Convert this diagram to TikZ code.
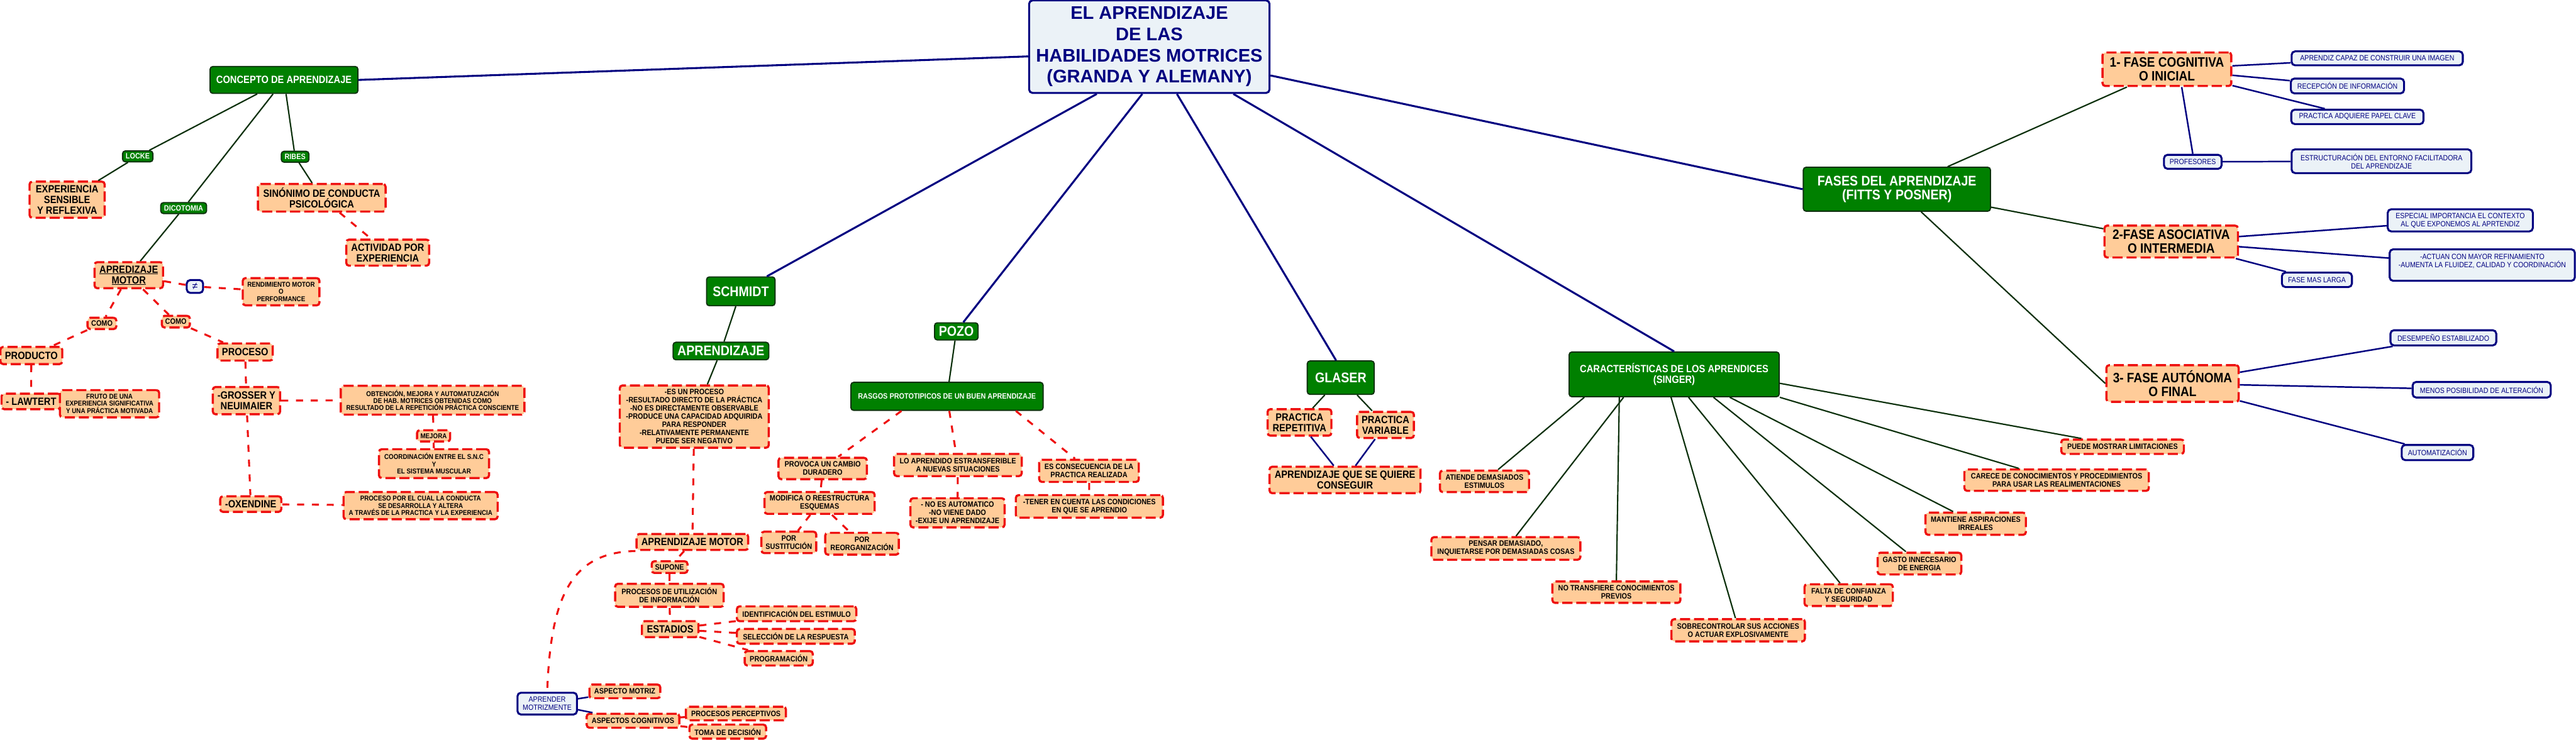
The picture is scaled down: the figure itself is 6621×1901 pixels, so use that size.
\documentclass[tikz,border=0pt]{standalone}
\usepackage{fontspec}
\setmainfont{Liberation Sans}
\newfontfamily\mapfont{Liberation Sans}[FakeStretch=0.88]
\definecolor{navy}{RGB}{0,0,128}
\definecolor{paleblue}{RGB}{235,242,247}
\definecolor{peachfill}{RGB}{255,204,153}
\definecolor{mapred}{RGB}{238,16,16}
\definecolor{mapgreen}{RGB}{0,128,0}
\definecolor{darkgreen}{RGB}{12,48,12}
\tikzset{
  peach/.style={draw=mapred, line width=5.5pt, dash pattern=on 26pt off 10pt, fill=peachfill, rounded corners=7pt, align=center, inner sep=3pt, text=black},
  greenbox/.style={draw=darkgreen, line width=3pt, fill=mapgreen, rounded corners=7pt, align=center, inner sep=3pt, text=white},
  bluebox/.style={draw=navy, line width=5pt, fill=paleblue, rounded corners=9pt, align=center, inner sep=3pt, text=navy, font=\mapfont\fontsize{19.5}{21}\selectfont},
  titlebox/.style={draw=navy, line width=5pt, fill=paleblue, rounded corners=9pt, align=center, inner sep=4pt, text=navy, font=\bfseries\fontsize{47}{54.5}\selectfont},
  fhuge/.style={font=\mapfont\bfseries\fontsize{36}{36.5}\selectfont},
  ffase/.style={font=\mapfont\bfseries\fontsize{35}{36}\selectfont},
  fbig/.style={font=\mapfont\bfseries\fontsize{27}{27.5}\selectfont},
  fmid/.style={font=\mapfont\bfseries\fontsize{20}{21}\selectfont},
  fsmall/.style={font=\mapfont\bfseries\fontsize{18}{18.5}\selectfont},
  navyline/.style={draw=navy, line width=5pt},
  thinnavy/.style={draw=navy, line width=4pt},
  greenline/.style={draw=darkgreen, line width=3.5pt},
  redline/.style={draw=mapred, line width=5pt, dash pattern=on 18pt off 20pt}
}
\begin{document}
\begin{tikzpicture}[x=1pt, y=-1pt]
		\useasboundingbox (0,0) rectangle (6621,1901);
		%draw main node
		\node[titlebox, minimum width=618pt, minimum height=238pt] (title) at (2954,120) {EL APRENDIZAJE\\DE LAS\\HABILIDADES MOTRICES\\(GRANDA Y ALEMANY)};
		%draw concepto branch
		\node[greenbox, fbig, minimum width=380pt, minimum height=69pt] (concepto) at (730,205.5) {CONCEPTO DE APRENDIZAJE};
		\node[greenbox, fmid, minimum width=78pt, minimum height=28pt] (locke) at (354,402) {LOCKE};
		\node[greenbox, fmid, minimum width=71pt, minimum height=28pt] (ribes) at (758.5,403) {RIBES};
		\node[greenbox, fmid, minimum width=118pt, minimum height=28pt] (dicot) at (472,535) {DICOTOMIA};
		\node[peach, fbig, minimum width=193pt, minimum height=93pt] (exper) at (172.5,513.5) {EXPERIENCIA\\SENSIBLE\\Y REFLEXIVA};
		\node[peach, fbig, minimum width=328pt, minimum height=71pt] (sinon) at (827,508.5) {SINÓNIMO DE CONDUCTA\\PSICOLÓGICA};
		\node[peach, fbig, minimum width=213pt, minimum height=67pt] (activ) at (996.5,649.5) {ACTIVIDAD POR\\EXPERIENCIA};
		\node[peach, fbig, minimum width=176pt, minimum height=67pt] (apmotor) at (331,707.5) {\underline{APREDIZAJE}\\\underline{MOTOR}};
		\node[bluebox, minimum width=42pt, minimum height=33pt, font=\fontsize{26}{26}\selectfont] (neq) at (501,736.5) {≠};
		\node[peach, fsmall, minimum width=197pt, minimum height=70pt] (rend) at (722.5,750) {RENDIMIENTO MOTOR\\O\\PERFORMANCE};
		\node[peach, fmid, minimum width=74pt, minimum height=29pt] (comoL) at (262,831.5) {COMO};
		\node[peach, fmid, minimum width=72pt, minimum height=30pt] (comoR) at (452,827) {COMO};
		\node[peach, fbig, minimum width=159pt, minimum height=44pt] (producto) at (80.5,914) {PRODUCTO};
		\node[peach, fbig, minimum width=142pt, minimum height=44pt] (proceso) at (630,905) {PROCESO};
		\node[peach, fbig, minimum width=152pt, minimum height=40pt] (lawtert) at (80,1032) {- LAWTERT};
		\node[peach, fsmall, minimum width=255pt, minimum height=70pt] (fruto) at (281.5,1038) {FRUTO DE UNA\\EXPERIENCIA SIGNIFICATIVA\\Y UNA PRÁCTICA MOTIVADA};
		\node[peach, fbig, minimum width=173pt, minimum height=70pt] (grosser) at (633.5,1030) {-GROSSER Y\\NEUIMAIER};
		\node[peach, fbig, minimum width=157pt, minimum height=40pt] (oxen) at (644.5,1296) {-OXENDINE};
		\node[peach, fsmall, minimum width=472pt, minimum height=74pt] (obten) at (1112,1029) {OBTENCIÓN, MEJORA Y AUTOMATUZACIÓN\\DE HAB. MOTRICES OBTENIDAS COMO\\RESULTADO DE LA REPETICIÓN PRÁCTICA CONSCIENTE};
		\node[peach, fsmall, minimum width=85pt, minimum height=29pt] (mejora) at (1114.5,1120.5) {MEJORA};
		\node[peach, fsmall, minimum width=283pt, minimum height=74pt] (coord) at (1115.5,1192) {COORDINACIÓN ENTRE EL S.N.C\\Y\\EL SISTEMA MUSCULAR};
		\node[peach, fsmall, minimum width=396pt, minimum height=70pt] (procuan) at (1081,1300) {PROCESO POR EL CUAL LA CONDUCTA\\SE DESARROLLA Y ALTERA\\A TRAVÉS DE LA PRACTICA Y LA EXPERIENCIA};
		%draw schmidt branch
		\node[greenbox, fhuge, minimum width=176pt, minimum height=74pt] (schmidt) at (1904,749) {SCHMIDT};
		\node[greenbox, fhuge, minimum width=246pt, minimum height=45pt] (aprlab) at (1853,902.5) {APRENDIZAJE};
		\node[peach, fmid, minimum width=383pt, minimum height=160pt] (esproc) at (1784.5,1071) {-ES UN PROCESO\\-RESULTADO DIRECTO DE LA PRÁCTICA\\-NO ES DIRECTAMENTE OBSERVABLE\\-PRODUCE UNA CAPACIDAD ADQUIRIDA\\PARA RESPONDER\\-RELATIVAMENTE PERMANENTE\\PUEDE SER NEGATIVO};
		\node[peach, fbig, minimum width=287pt, minimum height=41pt] (apm2) at (1779.5,1393.5) {APRENDIZAJE MOTOR};
		\node[peach, fmid, minimum width=92pt, minimum height=30pt] (supone) at (1721,1458) {SUPONE};
		\node[peach, fmid, minimum width=279pt, minimum height=59pt] (procutil) at (1720.5,1530.5) {PROCESOS DE UTILIZACIÓN\\DE INFORMACIÓN};
		\node[peach, fbig, minimum width=145pt, minimum height=41pt] (estadios) at (1722.5,1617.5) {ESTADIOS};
		\node[peach, fmid, minimum width=307pt, minimum height=38pt] (ident) at (2047.5,1578) {IDENTIFICACIÓN DEL ESTIMULO};
		\node[peach, fmid, minimum width=303pt, minimum height=38pt] (selec) at (2045.5,1636) {SELECCIÓN DE LA RESPUESTA};
		\node[peach, fmid, minimum width=175pt, minimum height=37pt] (progr) at (2001.5,1692.5) {PROGRAMACIÓN};
		\node[bluebox, minimum width=153pt, minimum height=56pt] (aprmot) at (1406.5,1809) {APRENDER\\MOTRIZMENTE};
		\node[peach, fmid, minimum width=182pt, minimum height=35pt] (aspmot) at (1606,1777.5) {ASPECTO MOTRIZ};
		\node[peach, fmid, minimum width=238pt, minimum height=36pt] (aspcog) at (1627,1853) {ASPECTOS COGNITIVOS};
		\node[peach, fmid, minimum width=257pt, minimum height=35pt] (procper) at (1891.5,1834.5) {PROCESOS PERCEPTIVOS};
		\node[peach, fmid, minimum width=197pt, minimum height=36pt] (toma) at (1870.5,1881) {TOMA DE DECISIÓN};
		%draw pozo branch
		\node[greenbox, fhuge, minimum width=112pt, minimum height=44pt] (pozo) at (2458,852) {POZO};
		\node[greenbox, fmid, minimum width=494pt, minimum height=72pt] (rasgos) at (2434,1019) {RASGOS PROTOTIPICOS DE UN BUEN APRENDIZAJE};
		\node[peach, fmid, minimum width=227pt, minimum height=55pt] (provoca) at (2114.5,1204.5) {PROVOCA UN CAMBIO\\DURADERO};
		\node[peach, fmid, minimum width=283pt, minimum height=56pt] (modif) at (2106.5,1293) {MODIFICA O REESTRUCTURA\\ESQUEMAS};
		\node[peach, fmid, minimum width=141pt, minimum height=55pt] (porsus) at (2027.5,1394.5) {POR\\SUSTITUCIÓN};
		\node[peach, fmid, minimum width=189pt, minimum height=56pt] (porreo) at (2215.5,1398) {POR\\REORGANIZACIÓN};
		\node[peach, fmid, minimum width=328pt, minimum height=57pt] (loapr) at (2462,1195.5) {LO APRENDIDO ESTRANSFERIBLE\\A NUEVAS SITUACIONES};
		\node[peach, fmid, minimum width=242pt, minimum height=75pt] (noesaut) at (2461,1318.5) {- NO ES AUTOMATICO\\-NO VIENE DADO\\-EXIJE UN APRENDIZAJE};
		\node[peach, fmid, minimum width=256pt, minimum height=57pt] (escons) at (2799,1210.5) {ES CONSECUENCIA DE LA\\PRACTICA REALIZADA};
		\node[peach, fmid, minimum width=378pt, minimum height=58pt] (tener) at (2800,1302) {-TENER EN CUENTA LAS CONDICIONES\\EN QUE SE APRENDIO};
		%draw glaser branch
		\node[greenbox, fhuge, minimum width=172pt, minimum height=86pt] (glaser) at (3446,971) {GLASER};
		\node[peach, fbig, minimum width=164pt, minimum height=68pt] (prrep) at (3340,1086) {PRACTICA\\REPETITIVA};
		\node[peach, fbig, minimum width=146pt, minimum height=67pt] (prvar) at (3561,1092.5) {PRACTICA\\VARIABLE};
		\node[peach, fbig, minimum width=388pt, minimum height=68pt] (aqsq) at (3457,1234) {APRENDIZAJE QUE SE QUIERE\\CONSEGUIR};
		%draw singer branch
		\node[greenbox, fbig, minimum width=540pt, minimum height=115pt] (singer) at (4303,962.5) {CARACTERÍSTICAS DE LOS APRENDICES\\(SINGER)};
		\node[peach, fmid, minimum width=229pt, minimum height=55pt] (atiende) at (3815.5,1237.5) {ATIENDE DEMASIADOS\\ESTIMULOS};
		\node[peach, fmid, minimum width=383pt, minimum height=58pt] (pensar) at (3870.5,1410) {PENSAR DEMASIADO,\\INQUIETARSE POR DEMASIADAS COSAS};
		\node[peach, fmid, minimum width=329pt, minimum height=55pt] (notransf) at (4154.5,1522.5) {NO TRANSFIERE CONOCIMIENTOS\\PREVIOS};
		\node[peach, fmid, minimum width=343pt, minimum height=57pt] (sobrec) at (4467.5,1620.5) {SOBRECONTROLAR SUS ACCIONES\\O ACTUAR EXPLOSIVAMENTE};
		\node[peach, fmid, minimum width=227pt, minimum height=56pt] (falta) at (4751.5,1530) {FALTA DE CONFIANZA\\Y SEGURIDAD};
		\node[peach, fmid, minimum width=215pt, minimum height=56pt] (gasto) at (4933.5,1449) {GASTO INNECESARIO\\DE ENERGIA};
		\node[peach, fmid, minimum width=258pt, minimum height=57pt] (mantiene) at (5078,1346.5) {MANTIENE ASPIRACIONES\\IRREALES};
		\node[peach, fmid, minimum width=474pt, minimum height=55pt] (carece) at (5286,1234.5) {CARECE DE CONOCIMIENTOS Y PROCEDIMIENTOS\\PARA USAR LAS REALIMENTACIONES};
		\node[peach, fmid, minimum width=315pt, minimum height=37pt] (puede) at (5455.5,1148.5) {PUEDE MOSTRAR LIMITACIONES};
		%draw fases branch
		\node[greenbox, fhuge, minimum width=481pt, minimum height=113pt] (fases) at (4875.5,486.5) {FASES DEL APRENDIZAJE\\(FITTS Y POSNER)};
		\node[peach, ffase, minimum width=331pt, minimum height=86pt] (fase1) at (5569.5,178) {1- FASE COGNITIVA\\O INICIAL};
		\node[peach, ffase, minimum width=343pt, minimum height=82pt] (fase2) at (5580.5,621) {2-FASE ASOCIATIVA\\O INTERMEDIA};
		\node[peach, ffase, minimum width=340pt, minimum height=94pt] (fase3) at (5584,986) {3- FASE AUTÓNOMA\\O FINAL};
		\node[bluebox, minimum width=440pt, minimum height=36pt] (aprendiz) at (6110,150) {APRENDIZ CAPAZ DE CONSTRUIR UNA IMAGEN};
		\node[bluebox, minimum width=291pt, minimum height=38pt] (recep) at (6033.5,221) {RECEPCIÓN DE INFORMACIÓN};
		\node[bluebox, minimum width=340pt, minimum height=37pt] (practica) at (6059,300.5) {PRACTICA ADQUIERE PAPEL CLAVE};
		\node[bluebox, minimum width=148pt, minimum height=36pt] (profes) at (5636,416) {PROFESORES};
		\node[bluebox, minimum width=462pt, minimum height=61pt] (estruct) at (6121,414.5) {ESTRUCTURACIÓN DEL ENTORNO FACILITADORA\\DEL APRENDIZAJE};
		\node[bluebox, minimum width=373pt, minimum height=57pt] (especial) at (6323.5,566.5) {ESPECIAL IMPORTANCIA EL CONTEXTO\\AL QUE EXPONEMOS AL APRTENDIZ};
		\node[bluebox, minimum width=476pt, minimum height=81pt, text depth=22pt] (actuan) at (6380,681.5) {-ACTUAN CON MAYOR REFINAMIENTO\\-AUMENTA LA FLUIDEZ, CALIDAD Y COORDINACIÓN};
		\node[bluebox, minimum width=180pt, minimum height=37pt] (faselarga) at (5955,719.5) {FASE MAS LARGA};
		\node[bluebox, minimum width=272pt, minimum height=39pt] (desemp) at (6280,868.5) {DESEMPEÑO ESTABILIZADO};
		\node[bluebox, minimum width=355pt, minimum height=40pt] (menos) at (6378.5,1002) {MENOS POSIBILIDAD DE ALTERACIÓN};
		\node[bluebox, minimum width=184pt, minimum height=39pt] (autom) at (6265,1163.5) {AUTOMATIZACIÓN};
		%draw main connections
		\draw[navyline] ([yshift=-25pt]title.west) -- (concepto.east);
		\draw[navyline] ([xshift=-135pt]title.south) -- ([xshift=67pt]schmidt.north);
		\draw[navyline] ([xshift=-18pt]title.south) -- ([xshift=18pt]pozo.north);
		\draw[navyline] ([xshift=71pt]title.south) -- ([xshift=-12pt]glaser.north);
		\draw[navyline] ([xshift=216pt]title.south) -- (singer.north);
		\draw[navyline] ([yshift=-74pt]title.east) -- (fases.west);
		%draw concepto connections
		\draw[greenline] (concepto) -- (locke);
		\draw[greenline] (locke) -- (exper);
		\draw[greenline] (concepto) -- (dicot);
		\draw[greenline] (dicot) -- (apmotor);
		\draw[greenline] (concepto) -- (ribes);
		\draw[greenline] (ribes) -- (sinon);
		\draw[redline] (sinon) -- (activ);
		\draw[redline] (apmotor) -- (neq);
		\draw[redline] (neq) -- (rend);
		\draw[redline] (apmotor) -- (comoL);
		\draw[redline] (comoL) -- (producto);
		\draw[redline] (producto) -- (lawtert);
		\draw[redline] (apmotor) -- (comoR);
		\draw[redline] (comoR) -- (proceso);
		\draw[redline] (proceso) -- (grosser);
		\draw[redline] (grosser) -- (obten);
		\draw[redline] (obten) -- (mejora);
		\draw[redline] (mejora) -- (coord);
		\draw[redline] (grosser) -- (oxen);
		\draw[redline] (oxen) -- (procuan);
		%draw schmidt connections
		\draw[greenline] (schmidt) -- (aprlab);
		\draw[greenline] (aprlab) -- (esproc);
		\draw[redline] (esproc) -- (apm2);
		\draw[redline] (apm2) -- (supone);
		\draw[redline] (supone) -- (procutil);
		\draw[redline] (procutil) -- (estadios);
		\draw[redline] (estadios) -- (ident);
		\draw[redline] (estadios) -- (selec);
		\draw[redline] (estadios) -- (progr);
		\draw[redline] (apm2.south west) .. controls (1470,1420) and (1415,1530) .. (aprmot.north);
		\draw[thinnavy] (aprmot) -- (aspmot);
		\draw[thinnavy] (aprmot) -- (aspcog);
		\draw[redline] (aspcog) -- (procper);
		\draw[redline] (aspcog) -- (toma);
		%draw pozo connections
		\draw[greenline] (pozo) -- (rasgos);
		\draw[redline] ([xshift=-117pt]rasgos.south) -- ([xshift=40pt]provoca.north);
		\draw[redline] (rasgos) -- (loapr);
		\draw[redline] ([xshift=177pt]rasgos.south) -- ([xshift=-36pt]escons.north);
		\draw[redline] (provoca) -- (modif);
		\draw[redline] (modif) -- (porsus);
		\draw[redline] (modif) -- (porreo);
		\draw[redline] (loapr) -- (noesaut);
		\draw[redline] (escons) -- (tener);
		%draw glaser connections
		\draw[greenline] (glaser) -- (prrep);
		\draw[greenline] (glaser) -- (prvar);
		\draw[thinnavy] (prrep) -- (aqsq);
		\draw[thinnavy] (prvar) -- (aqsq);
		%draw singer connections
		\draw[greenline] ([xshift=-231pt]singer.south) -- ([xshift=35pt]atiende.north);
		\draw[greenline] ([xshift=-130pt]singer.south) -- ([xshift=26pt]pensar.north);
		\draw[greenline] ([xshift=-141pt]singer.south) -- (notransf.north);
		\draw[greenline] ([xshift=-8pt]singer.south) -- ([xshift=-7pt]sobrec.north);
		\draw[greenline] ([xshift=37pt]singer.south) -- ([xshift=-22pt]falta.north);
		\draw[greenline] ([xshift=101pt]singer.south) -- ([xshift=-35pt]gasto.north);
		\draw[greenline] ([xshift=143pt]singer.south) -- ([xshift=-58pt]mantiene.north);
		\draw[greenline] (singer.south east) -- ([xshift=-97pt]carece.north);
		\draw[greenline] ([yshift=-23pt]singer.east) -- ([xshift=-106pt]puede.north);
		%draw fases connections
		\draw[greenline] (fases) -- (fase1);
		\draw[greenline] (fases) -- (fase2);
		\draw[greenline] (fases) -- (fase3.west);
		\draw[thinnavy] (fase1) -- (aprendiz);
		\draw[thinnavy] (fase1) -- (recep);
		\draw[thinnavy] (fase1) -- (practica);
		\draw[thinnavy] ([xshift=38pt]fase1.south) -- (profes.north);
		\draw[thinnavy] (profes) -- (estruct);
		\draw[thinnavy] (fase2) -- (especial);
		\draw[thinnavy] (fase2) -- (actuan);
		\draw[thinnavy] (fase2) -- (faselarga);
		\draw[thinnavy] (fase3) -- (desemp);
		\draw[thinnavy] (fase3) -- (menos);
		\draw[thinnavy] (fase3) -- (autom);
\end{tikzpicture}
\end{document}
